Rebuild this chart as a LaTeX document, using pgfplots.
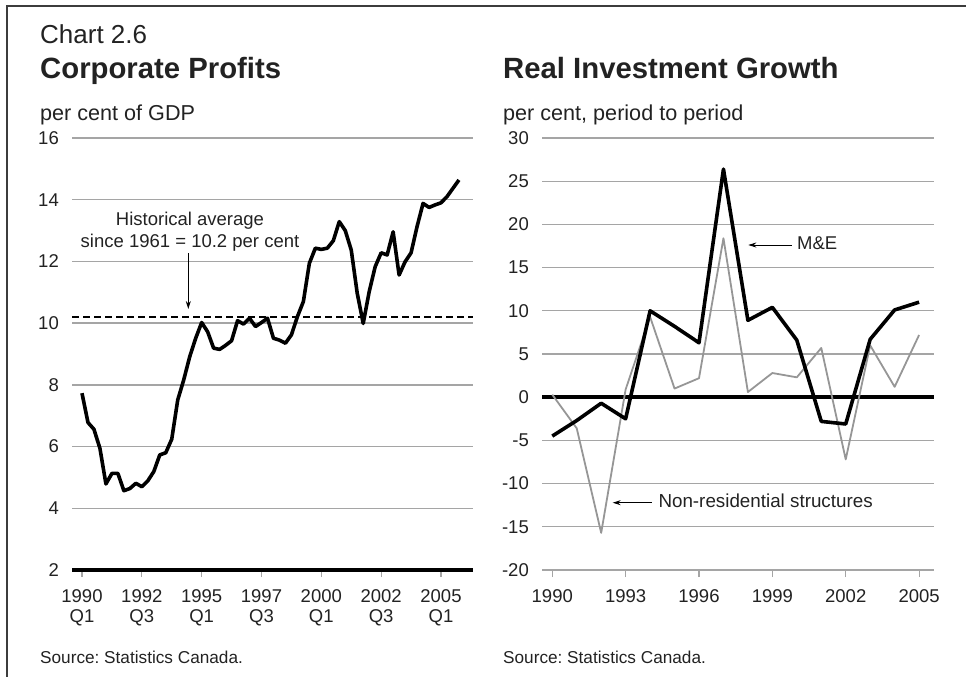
\documentclass[border=0pt]{standalone}
\usepackage{pgfplots}
\pgfplotsset{compat=1.18}
\usetikzlibrary{arrows.meta}
\usepackage{fontspec}
\setmainfont{Liberation Sans}
\frenchspacing

\definecolor{gridgray}{RGB}{165,165,165}
\definecolor{linegray}{RGB}{150,150,150}
\definecolor{txt}{RGB}{34,34,34}
\definecolor{framegray}{RGB}{60,60,60}

\pgfplotsset{
  chartstyle/.style={
    scale only axis,
    clip=false,
    axis line style={draw=none},
    ymajorgrids,
    grid style={gridgray, line width=1.3pt},
    tick align=outside,
    tick pos=left,
    major tick length=7pt,
    xtick style={gridgray, line width=1.1pt},
    ytick style={draw=none},
    tick label style={font=\fontsize{18.5}{20}\selectfont, text=txt},
    yticklabel style={anchor=east, inner sep=0pt, xshift=-6pt},
    xticklabel style={anchor=north, inner sep=0pt, yshift=-12pt, align=center},
    extra y tick labels={},
    extra y tick style={major grid style={black, line width=4pt}},
  }
}

\begin{document}
\begin{tikzpicture}
\useasboundingbox (0,0) rectangle (966pt,-677pt);
\draw[framegray, line width=2pt] (7pt,-677pt) -- (7pt,-6.5pt) -- (966pt,-6.5pt);

% titles
\node[anchor=base west, inner sep=0pt, text=txt, font=\fontsize{26}{30}\selectfont] at (40pt,-44pt) {Chart 2.6};
\node[anchor=base west, inner sep=0pt, text=txt, font=\fontsize{29.3}{32}\selectfont\bfseries] at (40pt,-78pt) {Corporate Profits};
\node[anchor=base west, inner sep=0pt, text=txt, font=\fontsize{29.3}{32}\selectfont\bfseries] at (503pt,-78pt) {Real Investment Growth};
\node[anchor=base west, inner sep=0pt, text=txt, font=\fontsize{21.6}{24}\selectfont] at (40pt,-120pt) {per cent of GDP};
\node[anchor=base west, inner sep=0pt, text=txt, font=\fontsize{21.6}{24}\selectfont] at (503pt,-120pt) {per cent, period to period};
\node[anchor=base west, inner sep=0pt, text=txt, font=\fontsize{17.2}{20}\selectfont] at (40pt,-663pt) {Source: Statistics Canada.};
\node[anchor=base west, inner sep=0pt, text=txt, font=\fontsize{17.2}{20}\selectfont] at (503pt,-663pt) {Source: Statistics Canada.};

% left panel: corporate profits, quarterly from 1990Q1 (index 0)
\begin{axis}[chartstyle,
  at={(72pt,-570pt)}, anchor=south west,
  width=401pt, height=432pt,
  xmin=-1.67, xmax=65.35, ymin=2, ymax=16,
  ytick={2,4,...,16},
  yticklabels={2,4,6,8,10,12,14,16},
  xtick={0,10,20,30,40,50,60},
  xticklabels={{1990\\Q1},{1992\\Q3},{1995\\Q1},{1997\\Q3},{2000\\Q1},{2002\\Q3},{2005\\Q1}},
  extra y ticks={2},
]
\addplot[black, dashed, line width=1.2pt, dash pattern=on 7pt off 4pt] coordinates {(-1.67,10.2) (65.35,10.2)};
\addplot[black, line width=3.6pt, line join=round] coordinates {
(0,7.73) (1,6.78) (2,6.56) (3,5.94) (4,4.79) (5,5.13) (6,5.13) (7,4.57)
(8,4.64) (9,4.81) (10,4.70) (11,4.89) (12,5.19) (13,5.73) (14,5.80) (15,6.24)
(16,7.51) (17,8.16) (18,8.91) (19,9.51) (20,10.02) (21,9.72) (22,9.19) (23,9.15)
(24,9.28) (25,9.43) (26,10.08) (27,9.97) (28,10.16) (29,9.89) (30,10.02) (31,10.16)
(32,9.51) (33,9.45) (34,9.35) (35,9.62) (36,10.21) (37,10.70) (38,11.94) (39,12.43)
(40,12.39) (41,12.43) (42,12.67) (43,13.29) (44,13.00) (45,12.37) (46,10.97) (47,9.99)
(48,11.02) (49,11.83) (50,12.28) (51,12.21) (52,12.96) (53,11.56) (54,11.99) (55,12.28)
(56,13.13) (57,13.88) (58,13.75) (59,13.83) (60,13.90) (61,14.10) (62,14.37) (63,14.64)
};
\end{axis}

% annotation, left panel
\node[align=center, inner sep=0pt, text=txt, font=\fontsize{18.5}{22}\selectfont] at (190pt,-232pt) {Historical average\\since 1961 = 10.2 per cent};
\draw[black, line width=0.9pt, -{Stealth[length=8pt,width=5pt]}] (188.3pt,-253pt) -- (188.3pt,-309pt);

% right panel: real investment growth, annual
\begin{axis}[chartstyle,
  at={(542pt,-570pt)}, anchor=south west,
  width=392pt, height=432pt,
  xmin=1989.58, xmax=2005.61, ymin=-20, ymax=30,
  ytick={-20,-15,...,30},
  yticklabels={-20,-15,-10,-5,0,5,10,15,20,25,30},
  xtick={1990,1993,1996,1999,2002,2005},
  xticklabels={1990,1993,1996,1999,2002,2005},
  extra y ticks={0},
]
\addplot[linegray, line width=1.8pt, line join=round] coordinates {
(1990,0.3) (1991,-3.6) (1992,-15.7) (1993,0.9) (1994,9.3) (1995,1.0) (1996,2.2) (1997,18.4)
(1998,0.6) (1999,2.8) (2000,2.3) (2001,5.7) (2002,-7.2) (2003,6.0) (2004,1.2) (2005,7.2)
};
\addplot[black, line width=3.6pt, line join=round] coordinates {
(1990,-4.5) (1991,-2.7) (1992,-0.7) (1993,-2.5) (1994,10.0) (1995,8.2) (1996,6.3) (1997,26.4)
(1998,8.9) (1999,10.4) (2000,6.6) (2001,-2.8) (2002,-3.1) (2003,6.7) (2004,10.1) (2005,11.0)
};
\end{axis}

% annotations, right panel
\draw[black, line width=0.9pt, -{Stealth[length=8pt,width=5pt]}] (791.7pt,-245pt) -- (748.3pt,-245pt);
\node[anchor=base west, inner sep=0pt, text=txt, font=\fontsize{18.5}{22}\selectfont] at (797pt,-249pt) {M\&E};
\draw[black, line width=0.9pt, -{Stealth[length=8pt,width=5pt]}] (651.7pt,-502.7pt) -- (612.7pt,-502.7pt);
\node[anchor=base west, inner sep=0pt, text=txt, font=\fontsize{18.8}{22}\selectfont] at (658.3pt,-507.3pt) {Non-residential structures};
\end{tikzpicture}
\end{document}
